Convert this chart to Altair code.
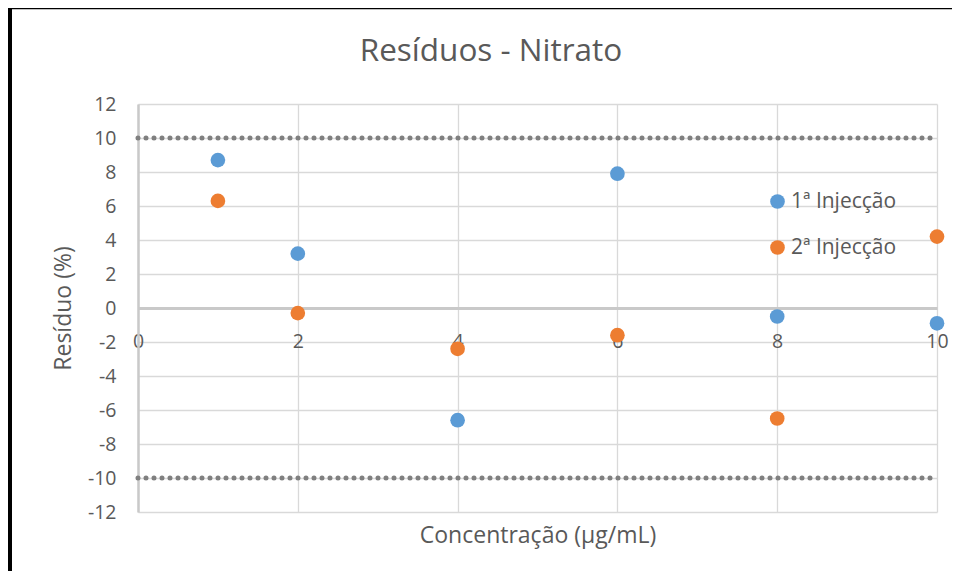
import altair as alt
import pandas as pd

# ---- data ----
conc = [1, 2, 4, 6, 8, 10]
inj1 = [8.7, 3.2, -6.6, 7.9, -0.5, -0.9]
inj2 = [6.3, -0.3, -2.4, -1.6, -6.5, 4.2]
series_names = ["1ª Injecção", "2ª Injecção"]
limits = [10, -10]
limit_x_start = [0, 0]
limit_x_end = [10, 10]
x_ticks = [0, 2, 4, 6, 8, 10]
y_ticks = [-12, -10, -8, -6, -4, -2, 0, 2, 4, 6, 8, 10, 12]
chart_title = "Resíduos - Nitrato"

df = pd.DataFrame({
    "conc": conc * 2,
    "res": inj1 + inj2,
    "serie": [series_names[0]] * len(conc) + [series_names[1]] * len(conc),
})
lim_df = pd.DataFrame({"lim": limits, "x0": limit_x_start, "x1": limit_x_end})

W, H = 799, 408
FONT = "Open Sans"
GREY = "#595959"
GRID = "#d9d9d9"

xscale = alt.Scale(domain=[0, 10], nice=False, zero=False)
yscale = alt.Scale(domain=[-12, 12], nice=False)

x_axis = alt.Axis(
    values=x_ticks, offset=-204, grid=True, gridColor=GRID, gridWidth=1.3,
    domainColor="#c9c9c9", domainWidth=3, ticks=False,
    labelFontSize=19.5, labelColor=GREY, labelFont=FONT, labelPadding=24,
    labelExpr="'' + datum.value", labelFlush=False, labelOverlap=False,
    title="Concentração (µg/mL)", titleFontSize=23, titleFont=FONT,
    titleColor=GREY, titleFontWeight="normal", titleY=227, titleBaseline="middle",
)
y_axis = alt.Axis(
    values=y_ticks, grid=True, gridColor=GRID, gridWidth=1.3,
    domainColor="#c9c9c9", domainWidth=2.5, ticks=False,
    labelFontSize=19.5, labelColor=GREY, labelFont=FONT, labelPadding=22,
    labelExpr="'' + datum.value", labelFlush=False, labelOverlap=False,
    title="Resíduo (%)", titleFontSize=23, titleFont=FONT, titleColor=GREY,
    titleFontWeight="normal", titleX=-75, titleY=H / 2, titleBaseline="middle",
    titleAngle=270,
)

limit_lines = alt.Chart(lim_df).mark_rule(
    color="#7f7f7f", strokeWidth=5, strokeDash=[0, 8], strokeCap="round"
).encode(
    x=alt.X("x0:Q", scale=xscale, axis=x_axis),
    x2="x1:Q",
    y=alt.Y("lim:Q", scale=yscale, axis=y_axis),
)

points = alt.Chart(df).mark_circle(size=215, opacity=1).encode(
    x=alt.X("conc:Q", scale=xscale, axis=x_axis),
    y=alt.Y("res:Q", scale=yscale, axis=y_axis),
    color=alt.Color(
        "serie:N",
        scale=alt.Scale(domain=series_names, range=["#5b9bd5", "#ed7d31"]),
        legend=alt.Legend(
            title=None, orient="none", legendX=629, legendY=87,
            direction="vertical", symbolType="circle", symbolSize=215,
            symbolStrokeWidth=0, symbolOpacity=1, labelFontSize=21,
            labelColor=GREY, labelFont=FONT, labelOffset=3, rowPadding=24,
            padding=0,
        ),
    ),
)

dummy = pd.DataFrame({"a": [0]})
title_text = alt.Chart(dummy).mark_text(
    text=chart_title, font=FONT, fontSize=31.5, color=GREY, align="center",
    baseline="alphabetic",
).encode(x=alt.value(353), y=alt.value(-43))

frame_left = alt.Chart(dummy).mark_rule(color="black", strokeWidth=4).encode(
    x=alt.value(-128), y=alt.value(-96), y2=alt.value(H + 59)
)
frame_top = alt.Chart(dummy).mark_rule(color="black", strokeWidth=1.5).encode(
    x=alt.value(-130), x2=alt.value(W + 15), y=alt.value(-95.5)
)

chart = alt.layer(limit_lines, points, title_text, frame_left, frame_top).properties(
    width=W,
    height=H,
    autosize=alt.AutoSizeParams(type="none"),
    padding={"left": 130, "top": 96, "right": 15, "bottom": 59},
    background="white",
).configure_view(strokeWidth=0)

chart.save("out.html", embed_options={"renderer": "svg", "actions": False})
